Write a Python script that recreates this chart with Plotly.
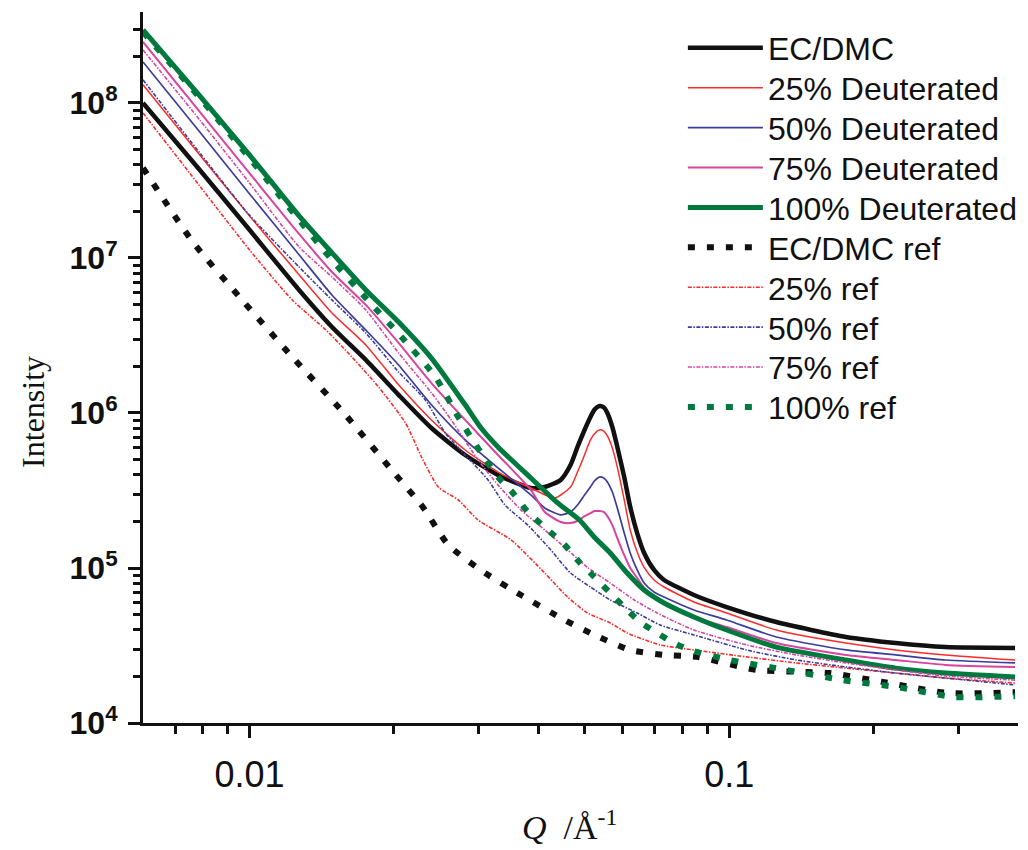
import plotly.graph_objects as go

# ---------------- data ----------------
q_ecdmc = [0.0060, 0.00788, 0.0100, 0.01269, 0.01486, 0.01748, 0.02046, 0.02395, 0.02816, 0.03297,
           0.0386, 0.04126, 0.04454, 0.0467, 0.04829, 0.04995, 0.05138, 0.05237, 0.05363, 0.05475,
           0.05573, 0.05708, 0.05846, 0.06043, 0.06219, 0.0643, 0.06649, 0.06973, 0.07315,
           0.08443, 0.09881, 0.1254, 0.1752, 0.2224, 0.2824, 0.3944]
i_ecdmc = [1.00e8, 3.70e7, 1.52e7, 6.22e6, 3.59e6, 2.20e6, 1.31e6, 8.00e5, 5.36e5, 3.98e5,
           3.28e5, 3.33e5, 3.70e5, 4.62e5, 6.04e5, 7.77e5, 9.42e5, 1.05e6, 1.11e6, 1.09e6,
           1.00e6, 8.12e5, 6.04e5, 3.86e5, 2.48e5, 1.68e5, 1.25e5, 9.71e4, 8.37e4,
           6.70e4, 5.60e4, 4.48e4, 3.59e4, 3.28e4, 3.09e4, 3.05e4]

q_d25 = [0.0060, 0.00788, 0.0100, 0.01269, 0.01486, 0.01748, 0.02046, 0.02395, 0.02816, 0.03297,
         0.0386, 0.04327, 0.0467, 0.04829, 0.04995, 0.05138, 0.05237, 0.05363, 0.05475, 0.05573,
         0.05708, 0.05846, 0.06043, 0.06219, 0.0643, 0.06649, 0.06973, 0.07315,
         0.08443, 0.09881, 0.1254, 0.1752, 0.2224, 0.2824, 0.3944]
i_d25 = [1.31e8, 4.62e7, 1.87e7, 7.80e6, 4.42e6, 2.75e6, 1.52e6, 9.02e5, 5.77e5, 4.16e5,
         3.28e5, 2.83e5, 3.33e5, 4.16e5, 5.36e5, 6.70e5, 7.32e5, 7.77e5, 7.65e5, 7.11e5,
         5.95e5, 4.48e5, 2.75e5, 1.76e5, 1.27e5, 1.01e5, 8.37e4, 7.54e4,
         6.04e4, 5.13e4, 3.98e4, 3.28e4, 2.96e4, 2.75e4, 2.55e4]

q_d50 = [0.0060, 0.00788, 0.0100, 0.01269, 0.01486, 0.01748, 0.02046, 0.02395, 0.02816, 0.03297,
         0.0386, 0.04126, 0.04454, 0.0467, 0.04829, 0.04995, 0.05138, 0.05237, 0.05363, 0.05475,
         0.05573, 0.05708, 0.05846, 0.06043, 0.06219, 0.0643, 0.06649, 0.06973, 0.07315,
         0.08443, 0.09881, 0.1254, 0.1752, 0.2224, 0.2824, 0.3944]
i_d50 = [1.84e8, 6.50e7, 2.60e7, 1.05e7, 5.77e6, 3.43e6, 2.04e6, 1.13e6, 6.70e5, 4.42e5,
         2.96e5, 2.44e5, 2.20e5, 2.30e5, 2.55e5, 2.96e5, 3.33e5, 3.64e5, 3.86e5, 3.81e5,
         3.59e5, 3.09e5, 2.44e5, 1.68e5, 1.25e5, 9.71e4, 8.00e4, 7.00e4, 6.50e4,
         5.36e4, 4.62e4, 3.59e4, 2.96e4, 2.75e4, 2.55e4, 2.44e4]

q_d75 = q_d50
i_d75 = [2.48e8, 8.75e7, 3.53e7, 1.43e7, 8.12e6, 4.98e6, 2.83e6, 1.56e6, 9.02e5, 5.36e5,
         3.19e5, 2.30e5, 1.98e5, 1.95e5, 2.01e5, 2.16e5, 2.26e5, 2.33e5, 2.33e5, 2.30e5,
         2.16e5, 1.89e5, 1.56e5, 1.21e5, 1.00e5, 8.62e4, 7.43e4, 6.50e4, 5.95e4,
         4.83e4, 4.16e4, 3.28e4, 2.75e4, 2.55e4, 2.37e4, 2.30e4]

q_d100 = [0.0060, 0.00788, 0.0100, 0.01269, 0.01486, 0.01748, 0.02046, 0.02395, 0.02816, 0.0304,
          0.03297, 0.0386, 0.04389, 0.04875, 0.05237, 0.0565, 0.0613, 0.06649, 0.07315, 0.08443,
          0.09881, 0.1254, 0.1752, 0.2224, 0.2824, 0.3944]
i_d100 = [2.96e8, 1.11e8, 4.62e7, 1.87e7, 1.08e7, 6.22e6, 3.86e6, 2.26e6, 1.13e6, 8.00e5,
          6.04e5, 3.81e5, 2.63e5, 2.04e5, 1.58e5, 1.25e5, 9.28e4, 7.21e4, 5.95e4, 4.83e4,
          3.98e4, 3.09e4, 2.55e4, 2.26e4, 2.10e4, 1.98e4]

q_ecdmc_ref = [0.0060, 0.007617, 0.009534, 0.01228, 0.01573, 0.01979, 0.02306, 0.02597, 0.03099, 0.0368,
               0.04539, 0.05237, 0.06219, 0.07315, 0.08564, 0.114, 0.1615, 0.209, 0.2864, 0.3944]
i_ecdmc_ref = [3.81e7, 1.27e7, 5.60e6, 2.30e6, 1.00e6, 4.29e5, 2.44e5, 1.41e5, 9.28e4, 6.70e4,
               4.62e4, 3.70e4, 2.96e4, 2.75e4, 2.67e4, 2.20e4, 2.10e4, 1.84e4, 1.56e4, 1.58e4]

q_r25 = [0.0060, 0.00788, 0.0100, 0.01228, 0.01444, 0.01635, 0.01859, 0.02115, 0.02284, 0.02476,
         0.02724, 0.02997, 0.03508, 0.04126, 0.04604, 0.05065, 0.0565, 0.0613, 0.07177, 0.08443,
         0.1087, 0.138, 0.1752, 0.2224, 0.2824, 0.3944]
i_r25 = [8.62e7, 2.91e7, 1.13e7, 5.36e6, 3.43e6, 2.30e6, 1.47e6, 8.62e5, 5.20e5, 3.33e5,
         2.75e5, 2.04e5, 1.52e5, 9.28e4, 6.50e4, 5.13e4, 4.42e4, 3.81e4, 3.19e4, 2.96e4,
         2.67e4, 2.44e4, 2.26e4, 2.10e4, 1.95e4, 1.81e4]

q_r50 = [0.0060, 0.00788, 0.0100, 0.01269, 0.01486, 0.01748, 0.02046, 0.02328, 0.0256, 0.02816,
         0.03144, 0.03409, 0.03805, 0.04246, 0.0467, 0.05138, 0.0565, 0.0643, 0.07177, 0.08443,
         0.1087, 0.138, 0.1752, 0.2224, 0.2824, 0.3944]
i_r50 = [1.41e8, 4.76e7, 1.89e7, 8.75e6, 5.36e6, 3.28e6, 1.84e6, 1.21e6, 7.43e5, 5.36e5,
         3.70e5, 2.55e5, 1.89e5, 1.31e5, 9.28e4, 7.54e4, 6.22e4, 5.13e4, 4.29e4, 3.70e4,
         2.96e4, 2.55e4, 2.30e4, 2.10e4, 1.95e4, 1.76e4]

q_r75 = [0.0060, 0.00788, 0.0100, 0.01269, 0.01486, 0.01748, 0.02046, 0.02395, 0.02634, 0.02997,
         0.03297, 0.0368, 0.04126, 0.04604, 0.05065, 0.0565, 0.06339, 0.07074, 0.08443, 0.1087,
         0.138, 0.1752, 0.2224, 0.2824, 0.3944]
i_r75 = [2.20e8, 7.77e7, 3.05e7, 1.18e7, 7.54e6, 4.62e6, 2.44e6, 1.35e6, 9.02e5, 4.98e5,
         3.43e5, 2.37e5, 1.76e5, 1.31e5, 1.01e5, 8.00e4, 6.22e4, 5.13e4, 3.98e4, 3.19e4,
         2.75e4, 2.44e4, 2.20e4, 2.01e4, 1.89e4]

q_r100 = [0.0060, 0.00788, 0.0100, 0.01269, 0.01486, 0.01748, 0.02075, 0.02441, 0.02724, 0.0304,
          0.03297, 0.03542, 0.03805, 0.04146, 0.04539, 0.04875, 0.05237, 0.05623, 0.06043, 0.06523,
          0.07074, 0.07674, 0.08283, 0.1002, 0.1316, 0.1727, 0.2224, 0.2962, 0.3944]
i_r100 = [2.87e8, 1.08e8, 4.42e7, 1.76e7, 9.71e6, 5.52e6, 3.09e6, 1.71e6, 9.42e5, 5.52e5,
          3.86e5, 3.05e5, 2.30e5, 1.81e5, 1.41e5, 1.09e5, 8.75e4, 7.00e4, 5.60e4, 4.48e4,
          3.81e4, 3.28e4, 2.96e4, 2.55e4, 2.20e4, 1.89e4, 1.71e4, 1.47e4, 1.49e4]

series_names = ["EC/DMC", "25% Deuterated", "50% Deuterated", "75% Deuterated", "100% Deuterated",
                "EC/DMC ref", "25% ref", "50% ref", "75% ref", "100% ref"]

y_tick_values = [1e4, 1e5, 1e6, 1e7, 1e8]
y_tick_labels = ["10<sup>4</sup>", "10<sup>5</sup>", "10<sup>6</sup>", "10<sup>7</sup>", "10<sup>8</sup>"]
x_tick_values = [0.01, 0.1]
x_tick_labels = ["0.01", "0.1"]

# ---------------- styles ----------------
BLACK = "#111111"
RED = "#ff2b2b"
BLUE = "#3c3c9c"
MAGENTA = "#d8449e"
GREEN = "#00793f"

THIN_DASH = "4px,1.5px,1.5px,1.5px"
styles = [
    dict(color=BLACK, width=4.5, dash="solid"),
    dict(color=RED, width=1.5, dash="solid"),
    dict(color=BLUE, width=1.7, dash="solid"),
    dict(color=MAGENTA, width=2.0, dash="solid"),
    dict(color=GREEN, width=5, dash="solid"),
    dict(color=BLACK, width=6, dash="7px,12px"),
    dict(color=RED, width=1.6, dash=THIN_DASH),
    dict(color=BLUE, width=1.6, dash=THIN_DASH),
    dict(color=MAGENTA, width=1.6, dash=THIN_DASH),
    dict(color=GREEN, width=6, dash="7px,12px"),
]

data = [(q_ecdmc, i_ecdmc), (q_d25, i_d25), (q_d50, i_d50), (q_d75, i_d75), (q_d100, i_d100),
        (q_ecdmc_ref, i_ecdmc_ref), (q_r25, i_r25), (q_r50, i_r50), (q_r75, i_r75), (q_r100, i_r100)]

fig = go.Figure()
legend_layout = {}
PLOT_TOP, PLOT_BOTTOM = 12, 723
for k, (name, (q, inten), st) in enumerate(zip(series_names, data, styles)):
    lg = "legend" if k == 0 else f"legend{k + 1}"
    fig.add_trace(go.Scatter(x=q, y=inten, mode="lines", name=name,
                             line=dict(shape="spline", smoothing=0.6, **st), legend=lg))
    row_center = 48 + 39.9 * k
    legend_layout[lg] = dict(
        x=0.617, y=(PLOT_BOTTOM - row_center) / (PLOT_BOTTOM - PLOT_TOP),
        xanchor="left", yanchor="middle",
        bgcolor="rgba(0,0,0,0)", borderwidth=0,
        font=dict(family="Liberation Sans, Arial, sans-serif", size=32, color="#111111"),
        itemwidth=75)

minor_x = [0.007, 0.008, 0.009, 0.02, 0.03, 0.04, 0.05, 0.06, 0.07, 0.08, 0.09, 0.2, 0.3]
minor_y = [m * 10 ** e for e in range(4, 9) for m in range(2, 10)]

fig.update_layout(
    width=1028, height=850,
    margin=dict(l=143, r=5, t=PLOT_TOP, b=850 - PLOT_BOTTOM),
    paper_bgcolor="white", plot_bgcolor="white",
    showlegend=True,
    xaxis=dict(type="log", range=[-2.2218487, -0.39794],
               tickvals=x_tick_values, ticktext=x_tick_labels,
               ticks="outside", ticklen=12, tickwidth=3, tickcolor=BLACK,
               ticklabelstandoff=6,
               showline=True, linewidth=3, linecolor=BLACK, showgrid=False, zeroline=False,
               tickfont=dict(family="Liberation Sans Narrow, Liberation Sans, Arial, sans-serif", size=36, color=BLACK),
               minor=dict(tickvals=minor_x, ticks="outside", ticklen=8, tickwidth=2.5, tickcolor=BLACK, showgrid=False)),
    yaxis=dict(type="log", range=[4, 8.587],
               tickvals=y_tick_values, ticktext=y_tick_labels,
               ticks="outside", ticklen=12, tickwidth=3, tickcolor=BLACK,
               ticklabelstandoff=4,
               showline=True, linewidth=3, linecolor=BLACK, showgrid=False, zeroline=False,
               tickfont=dict(family="Liberation Sans, Arial, sans-serif", size=32, color=BLACK, weight="bold"),
               minor=dict(tickvals=minor_y, ticks="outside", ticklen=7, tickwidth=2.5, tickcolor=BLACK, showgrid=False)),
    annotations=[
        dict(text="Intensity", xref="paper", yref="paper", x=-0.125, y=0.437,
             xanchor="center", yanchor="middle",
             showarrow=False, textangle=-90,
             font=dict(family="Liberation Serif, Times New Roman, serif", size=32, color=BLACK)),
        dict(text="<i>Q</i>  /Å<sup>-1</sup>", xref="paper", yref="paper", x=0.487, y=-0.176,
             xanchor="center", yanchor="bottom",
             showarrow=False,
             font=dict(family="Liberation Serif, Times New Roman, serif", size=34, color=BLACK)),
    ],
)
fig.update_layout(**legend_layout)

fig.write_html("out.html")
